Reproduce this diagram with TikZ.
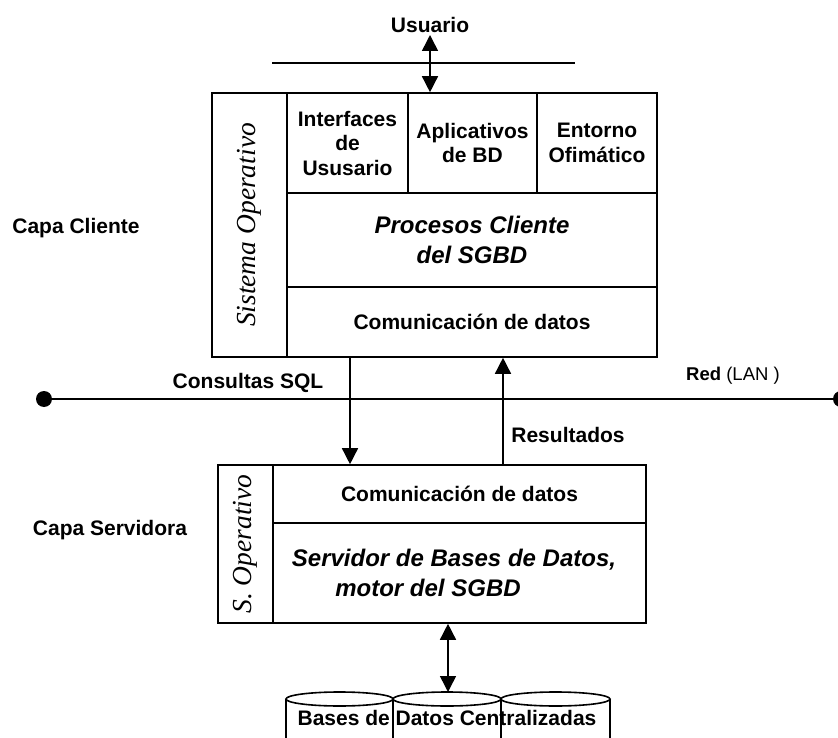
\documentclass[tikz,border=0pt]{standalone}
\usepackage{fontspec}
\setmainfont{Liberation Sans}
\newfontfamily\timesfont{Liberation Serif}
\usetikzlibrary{arrows.meta}
\begin{document}
\begin{tikzpicture}[x=1pt,y=-1pt,
  box/.style={draw, line width=1.6pt, inner sep=0pt},
  lbl/.style={font=\fontsize{21}{24.5}\selectfont\bfseries, align=center, inner sep=0pt},
  lblit/.style={font=\fontsize{24}{30}\selectfont\bfseries\itshape, align=center, inner sep=0pt},
  osname/.style={font=\timesfont\itshape\fontsize{27.5}{30}\selectfont, rotate=90, inner sep=0pt},
  arr/.style={line width=1.5pt, -{Triangle[length=16pt,width=16pt]}},
  dblarr/.style={line width=1.5pt, {Triangle[length=16pt,width=16pt]}-{Triangle[length=16pt,width=16pt]}},
  wire/.style={line width=1.6pt}]
\useasboundingbox (0,0) rectangle (838,738);
\clip (0,0) rectangle (838,738);

% ---- client layer ----
\node[box, minimum width=75pt, minimum height=264pt] (cos) at (249.5,225) {};
\node[osname] (cosl) at (cos.center) {Sistema Operativo};
\node[box, lbl, minimum width=121pt, minimum height=100pt] (iu) at (347.5,143) {Interfaces\\de\\Ususario};
\node[box, lbl, minimum width=129pt, minimum height=100pt] (ap) at (472.5,143) {Aplicativos\\de BD};
\node[box, lbl, minimum width=120pt, minimum height=100pt] (eo) at (597,143) {Entorno\\Ofimático};
\node[box, lblit, minimum width=370pt, minimum height=94pt] (pc) at (472,240) {Procesos Cliente\\del SGBD};
\node[box, lbl, minimum width=370pt, minimum height=70pt] (cd1) at (472,322) {Comunicación de datos};
\node[lbl] (cc) at (76,228) {Capa Cliente};

% ---- user ----
\node[lbl] (usr) at (430,25) {Usuario};
\coordinate (ux) at (430,35);
\coordinate (ul) at (272,63);
\coordinate (ur) at (575,63);
\draw[wire] (ul) -- (ur);
\draw[dblarr] (ux) -- (ap.north -| ux);

% ---- network ----
\coordinate (nl) at (44,399);
\coordinate (nr) at (841,399);
\draw[wire] (nl) -- (nr);
\fill (nl) circle (8pt);
\fill (nr) circle (8pt);
\node[lbl] (sql) at (248,383) {Consultas SQL};
\node[inner sep=0pt, font=\fontsize{18.5}{20}\selectfont] (red) at (733,376) {\textbf{Red} (LAN )};

% ---- server layer ----
\node[box, minimum width=55pt, minimum height=158pt] (sos) at (245.5,544) {};
\node[osname] (sosl) at (sos.center) {S. Operativo};
\node[box, lbl, minimum width=373pt, minimum height=58pt] (cd2) at (459.5,494) {Comunicación de datos};
\node[box, minimum width=373pt, minimum height=100pt] (sv) at (459.5,573) {};
\node[lblit] (sv1) at (454,560) {Servidor de Bases de Datos,};
\node[lblit] (sv2) at (428,588) {motor del SGBD};
\node[lbl] (cs) at (110,530) {Capa Servidora};

% ---- queries and results ----
\coordinate (qx) at (350,0);
\coordinate (rx) at (503,0);
\draw[arr] (cd1.south -| qx) -- (cd2.north -| qx);
\draw[arr] (cd2.north -| rx) -- (cd1.south -| rx);
\node[lbl] (res) at (568,435) {Resultados};

% ---- databases ----
\coordinate (dbx) at (448,692);
\draw[dblarr] (sv.south -| dbx) -- (dbx);
\node[lbl] (db) at (447,718) {Bases de Datos Centralizadas};
\foreach \a/\b/\c in {286/393/339.5, 393/501/447, 501/610/555.5} {
  \draw[wire] (\a,745) -- (\a,699);
  \draw[wire] (\b,699) -- (\b,745);
  \draw[wire] (\c,699) ellipse [x radius={(\b-\a)/2*1pt}, y radius=7pt];
}
\end{tikzpicture}
\end{document}
